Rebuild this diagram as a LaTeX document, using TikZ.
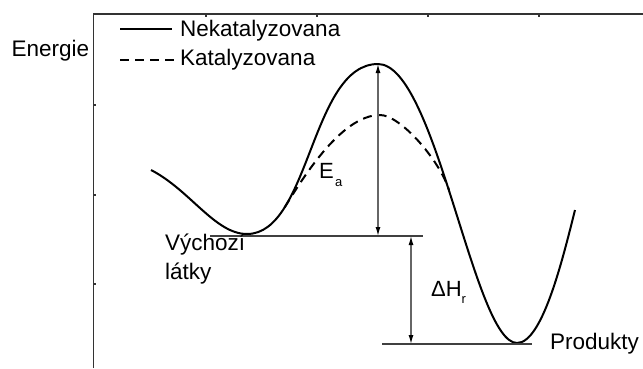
\documentclass[tikz,border=0pt]{standalone}
\usepackage{fontspec}
\setmainfont{Liberation Sans}
\usetikzlibrary{arrows.meta}
\begin{document}
\begin{tikzpicture}[x=1pt,y=-1pt,
 lbl/.style={inner sep=0pt, anchor=base west, font=\fontsize{22.5}{27}\selectfont},
 sym/.style={inner sep=0pt, anchor=base west, font=\fontsize{22}{26}\selectfont},
 subtxt/.style={inner sep=0pt, anchor=base west, font=\fontsize{13}{15}\selectfont},
 frameline/.style={line width=1.5pt, draw=black!80},
 curve/.style={line width=2pt, line join=round},
 dcurve/.style={line width=2pt, dash pattern=on 9pt off 6pt},
 level/.style={line width=1.3pt, draw=black!75},
 dim/.style={line width=1.3pt, draw=black!60, {Latex[length=9pt,width=5pt,color=black]}-{Latex[length=9pt,width=5pt,color=black]}},
]
\useasboundingbox (0,0) rectangle (643,368);
% frame
\draw[frameline] (93.5,368) -- (93.5,14) -- (643,14);
\foreach \yy in {105,195,284} \draw[frameline] (93.5,\yy) -- ++(2.5,0);
\foreach \xx in {206,317,428,539} \draw[frameline] (\xx,14) -- ++(0,2.5);
% legend
\draw[curve] (120,29) -- (172,29);
\draw[dcurve] (120,60) -- (174,60);
\node[lbl] (nekat) at (180,36.5) {Nekatalyzovana};
\node[lbl] (kat) at (180,65) {Katalyzovana};
\node[lbl] (energie) at (11.5,56.5) {Energie};
% curves
\draw[curve] (151,170) .. controls (190,190) and (215,234) .. (247,234)
  .. controls (310,234) and (311,64) .. (378,64)
  .. controls (436,64) and (474,343) .. (517,343)
  .. controls (542,343) and (562,262) .. (575,210);
\draw[dcurve] (284.6,207.4) .. controls (300,183) and (340,115) .. (380,115)
  .. controls (400,115) and (439,159) .. (449,190);
% levels
\coordinate (r1) at (210,236);
\coordinate (r2) at (423,236);
\coordinate (p1) at (382,344);
\coordinate (p2) at (532,344);
\draw[level] (r1) -- (r2);
\draw[level] (p1) -- (p2);
% dimension arrows
\coordinate (eaTop) at (378,64);
\coordinate (eaBot) at (378,236);
\coordinate (dhTop) at (411,236);
\coordinate (dhBot) at (411,344);
\draw[dim] (eaTop) -- (eaBot);
\draw[dim] (dhTop) -- (dhBot);
% labels
\node[lbl] (vych) at (165,250.5) {Výchozí};
\node[lbl] (latky) at (165,279) {látky};
\node[lbl] (prod) at (550,349) {Produkty};
\node[sym] (E) at (319,178) {E};
\node[subtxt] (a) at (335,186.5) {a};
\node[sym] (dH) at (431,296) {ΔH};
\node[subtxt] (r) at (461.5,303) {r};
\end{tikzpicture}
\end{document}
